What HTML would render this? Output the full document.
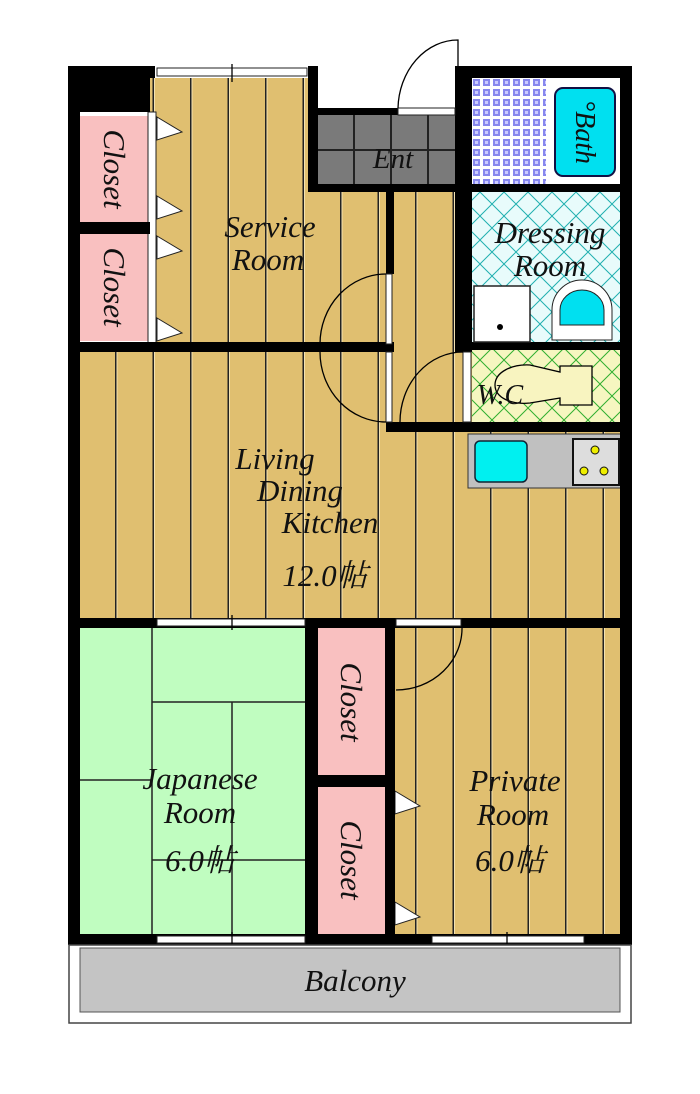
<!DOCTYPE html>
<html><head><meta charset="utf-8"><style>
html,body{margin:0;padding:0;background:#fff;}
svg{display:block}
text{font-family:"Liberation Serif","Noto Serif CJK SC",serif;font-style:italic;fill:#111;}
</style></head><body>
<svg width="700" height="1094" viewBox="0 0 700 1094" xmlns="http://www.w3.org/2000/svg">
<defs>
<pattern id="wood" x="80" y="0" width="37.5" height="10" patternUnits="userSpaceOnUse">
<rect width="37.5" height="10" fill="#e0bf70"/><rect x="35" width="1.5" height="10" fill="#222"/><rect x="36.5" width="1" height="10" fill="#f4e2b0"/>
</pattern>
<pattern id="tile" x="472" y="78" width="10" height="10" patternUnits="userSpaceOnUse">
<rect width="10" height="10" fill="#fff"/><rect x="1" y="1" width="7" height="7" fill="#8888ee"/><rect x="3" y="3" width="3" height="3" fill="#ccccff"/>
</pattern>
<pattern id="lat" x="0" y="0" width="24" height="24" patternUnits="userSpaceOnUse">
<rect width="24" height="24" fill="#e8fbfb"/><path d="M0 0L24 24M24 0L0 24" stroke="#20b0b0" stroke-width="1"/>
</pattern>
<pattern id="latg" x="0" y="0" width="24" height="24" patternUnits="userSpaceOnUse">
<rect width="24" height="24" fill="#f6f6c0"/><path d="M0 0L24 24M24 0L0 24" stroke="#30b030" stroke-width="1"/>
</pattern>
<pattern id="ent" x="318" y="115" width="37" height="36" patternUnits="userSpaceOnUse">
<rect width="37" height="36" fill="#7a7a7a"/><rect x="35" width="2" height="36" fill="#222"/><rect y="34" width="37" height="2" fill="#222"/>
</pattern>
</defs>

<rect x="150" y="78" width="160" height="270" fill="url(#wood)"/>
<rect x="308" y="190" width="160" height="240" fill="url(#wood)"/>
<rect x="80" y="348" width="545" height="272" fill="url(#wood)"/>
<rect x="392" y="626" width="230" height="312" fill="url(#wood)"/>
<rect x="80" y="626" width="228" height="312" fill="#c0fdc0"/>
<rect x="318" y="115" width="146" height="72" fill="url(#ent)"/>
<rect x="472" y="78" width="76" height="108" fill="url(#tile)"/>
<rect x="546" y="78" width="76" height="108" fill="#fff"/>
<rect x="555" y="88" width="60" height="88" rx="8" fill="#00e0f0" stroke="#114" stroke-width="2"/>
<rect x="472" y="192" width="150" height="152" fill="url(#lat)"/>
<rect x="472" y="350" width="150" height="74" fill="url(#latg)"/>
<rect x="80" y="116" width="68" height="108" fill="#f9c0c0"/>
<rect x="80" y="233" width="68" height="108" fill="#f9c0c0"/>
<rect x="318" y="628" width="68" height="148" fill="#f9c0c0"/>
<rect x="318" y="787" width="68" height="148" fill="#f9c0c0"/>
<rect x="148" y="112" width="8" height="232" fill="#fff" stroke="#222" stroke-width="1"/>
<rect x="386" y="787" width="8" height="148" fill="#fff" stroke="#222" stroke-width="1"/>
<rect x="306" y="628" width="10" height="147" fill="#fff" stroke="#222" stroke-width="1"/>
<g fill="#fff" stroke="#222" stroke-width="1">
<path d="M157 117L182 132L157 140Z"/><path d="M157 196L182 211L157 219Z"/><path d="M157 236L182 251L157 259Z"/><path d="M157 318L182 333L157 341Z"/>
<path d="M395 791L420 806L395 814Z"/><path d="M395 902L420 917L395 925Z"/>
</g>
<g stroke="#222" stroke-width="1.5">
<line x1="152" y1="626" x2="152" y2="936"/><line x1="152" y1="702" x2="306" y2="702"/>
<line x1="232" y1="702" x2="232" y2="936"/><line x1="80" y1="780" x2="152" y2="780"/>
<line x1="152" y1="860" x2="306" y2="860"/>
</g>
<rect x="468" y="434" width="154" height="54" fill="#c0c0c0" stroke="#333" stroke-width="1"/>
<rect x="475" y="441" width="52" height="41" rx="5" fill="#00f0f0" stroke="#123" stroke-width="1.5"/>
<rect x="573" y="439" width="46" height="46" fill="#ddd" stroke="#111" stroke-width="2"/>
<g fill="#ee0" stroke="#111"><circle cx="595" cy="450" r="4"/><circle cx="584" cy="471" r="4"/><circle cx="604" cy="471" r="4"/></g>
<g fill="#000">
<rect x="68" y="66" width="87" height="12"/><rect x="68" y="66" width="82" height="46"/>
<rect x="68" y="66" width="12" height="876"/><rect x="620" y="66" width="12" height="876"/>
<rect x="308" y="66" width="10" height="126"/><rect x="308" y="108" width="90" height="7"/>
<rect x="455" y="66" width="177" height="12"/><rect x="455" y="66" width="17" height="286"/>
<rect x="308" y="184" width="155" height="8"/>
<rect x="386" y="192" width="8" height="82"/>
<rect x="68" y="342" width="326" height="10"/>
<rect x="472" y="184" width="150" height="8"/><rect x="463" y="342" width="159" height="8"/>
<rect x="386" y="422" width="246" height="10"/>
<rect x="80" y="222" width="70" height="12"/>
<rect x="68" y="618" width="564" height="10"/>
<rect x="305" y="626" width="13" height="316"/><rect x="318" y="775" width="77" height="12"/>
<rect x="385" y="626" width="10" height="316"/>
<rect x="68" y="934" width="564" height="11"/>
</g>
<g fill="#fff" stroke="#222" stroke-width="1">
<rect x="157" y="68" width="150" height="8"/><rect x="157" y="619" width="148" height="7"/>
<rect x="157" y="936" width="148" height="7"/><rect x="432" y="936" width="152" height="7"/>
<rect x="396" y="619" width="65" height="7"/><rect x="398" y="108" width="57" height="7"/>
<rect x="386" y="274" width="6" height="70"/><rect x="386" y="352" width="6" height="70"/>
<rect x="463" y="352" width="8" height="70"/>
</g>
<g stroke="#000" stroke-width="1.3" fill="none">
<line x1="232" y1="64" x2="232" y2="82"/><line x1="232" y1="615" x2="232" y2="630"/><line x1="232" y1="932" x2="232" y2="947"/><line x1="507" y1="932" x2="507" y2="947"/>
<path d="M398 108A60 70 0 0 1 458 40L458 108"/>
<path d="M386 274A66 70 0 0 0 320 344"/><path d="M386 422A66 70 0 0 1 320 352"/>
<path d="M463 352A63 70 0 0 0 400 422"/>
<path d="M462 626A66 62 0 0 1 396 690"/>
<path d="M530 365C512 364 495 372 495 385C495 398 512 405 530 403L560 398L560 405L592 405L592 366L560 366L560 372Z" fill="#f8f4c0"/>
</g>
<rect x="474" y="286" width="56" height="56" fill="#fff" stroke="#222" stroke-width="1.5"/>
<circle cx="500" cy="327" r="3" fill="#000"/>
<path d="M552 340L552 310A30 30 0 0 1 612 310L612 340Z" fill="#fff" stroke="#222"/>
<path d="M560 325L560 310A22 20 0 0 1 604 310L604 325Z" fill="#00e0f0" stroke="#222"/>
<rect x="69" y="945" width="562" height="78" fill="#fff" stroke="#444" stroke-width="1.5"/>
<rect x="80" y="948" width="540" height="64" fill="#c4c4c4" stroke="#555" stroke-width="1"/>
<g font-size="31">
<text x="270" y="237" text-anchor="middle">Service</text><text x="268" y="270" text-anchor="middle">Room</text>
<text x="393" y="168" text-anchor="middle" font-size="29">Ent</text>
<text x="550" y="243" text-anchor="middle">Dressing</text><text x="550" y="276" text-anchor="middle">Room</text>
<text x="500" y="404" text-anchor="middle" font-size="28">W.C</text>
<text x="275" y="469" text-anchor="middle">Living</text><text x="300" y="501" text-anchor="middle">Dining</text>
<text x="330" y="533" text-anchor="middle">Kitchen</text><text x="325" y="586" text-anchor="middle">12.0帖</text>
<text x="200" y="789" text-anchor="middle">Japanese</text><text x="200" y="823" text-anchor="middle">Room</text>
<text x="200" y="871" text-anchor="middle">6.0帖</text>
<text x="515" y="791" text-anchor="middle">Private</text><text x="513" y="825" text-anchor="middle">Room</text>
<text x="510" y="871" text-anchor="middle">6.0帖</text>
<text x="355" y="991" text-anchor="middle">Balcony</text>
<text transform="translate(104,169) rotate(90)" text-anchor="middle">Closet</text>
<text transform="translate(104,287) rotate(90)" text-anchor="middle">Closet</text>
<text transform="translate(341,702) rotate(90)" text-anchor="middle">Closet</text>
<text transform="translate(341,860) rotate(90)" text-anchor="middle">Closet</text>
<text transform="translate(576,132) rotate(90)" text-anchor="middle" font-size="28">°Bath</text>
</g>
</svg>
</body></html>
